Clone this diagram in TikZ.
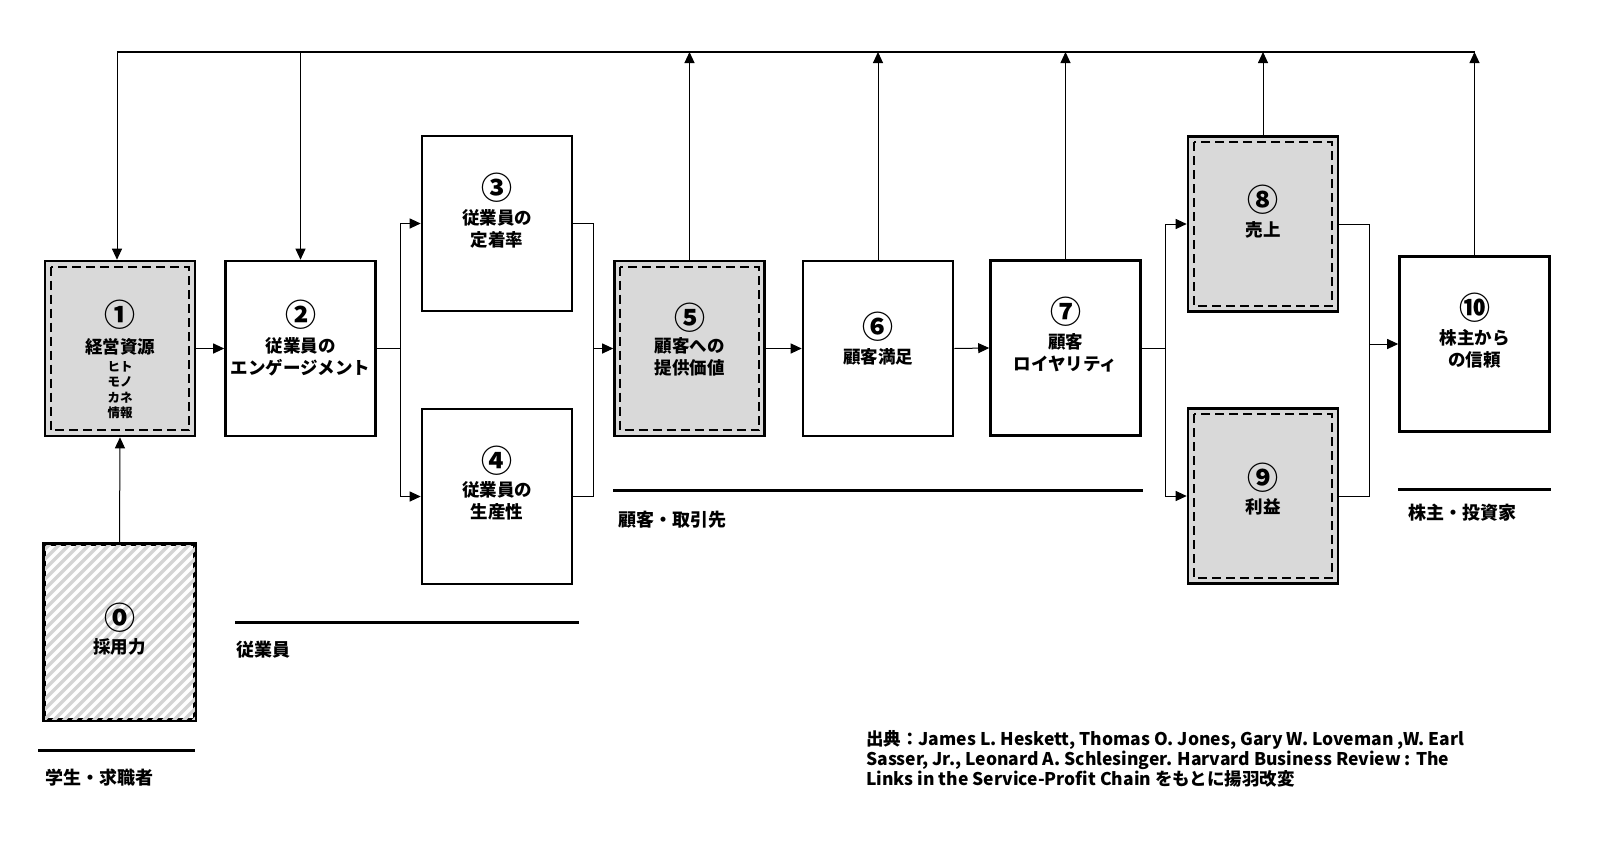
\documentclass[tikz,border=0pt]{standalone}
\usepackage{fontspec}
\setmainfont{Noto Sans CJK JP}
\usetikzlibrary{arrows.meta}
\definecolor{boxgray}{RGB}{217,217,217}
\definecolor{hatchgray}{RGB}{212,212,212}
\tikzset{
  box/.style={draw, line width=2.6pt, minimum width=150pt, minimum height=175pt, inner sep=0pt, fill=white},
  graybox/.style={box, fill=boxgray},
  hatchbox/.style={box, fill=none},
  num/.style={font=\fontsize{31}{33}\selectfont\bfseries, inner sep=0pt},
  txt/.style={font=\fontsize{17.5}{22}\selectfont\bfseries, align=center, inner sep=0pt},
  small/.style={font=\fontsize{12.5}{15.5}\selectfont\bfseries, align=center, inner sep=0pt},
  lbl/.style={font=\fontsize{18}{22}\selectfont\bfseries, anchor=west, inner sep=0pt},
  citetext/.style={font=\fontsize{17.5}{20}\selectfont\bfseries, align=left, anchor=north west, inner sep=0pt},
  arr/.style={line width=1pt, -{Triangle[length=11pt,width=10pt]}},
  conn/.style={line width=1pt},
  topline/.style={line width=2pt},
  secline/.style={line width=3pt},
  dashin/.style={line width=2pt, dash pattern=on 9pt off 5pt},
  hatchline/.style={line width=3.5pt, hatchgray},
}
\begin{document}
\begin{tikzpicture}[x=1pt,y=-1pt]
\fill[white] (0,0) rectangle (1624,849);
\useasboundingbox (0,0) rectangle (1624,849);

% boxes
\node[hatchbox] (b0) at (119.5,632) {};
\begin{scope}
  \clip (b0.south west) rectangle (b0.north east);
  \foreach \i in {0,10,...,340}{
    \draw[hatchline] ([xshift=\i pt-190pt]b0.south west) -- ++(190,-190);
  }
\end{scope}
\draw[line width=2.6pt] (b0.south west) rectangle (b0.north east);
\node[graybox] (b1) at (120,348.5) {};
\node[box] (b2) at (300.5,348.5) {};
\node[box] (b3) at (497,223.5) {};
\node[box] (b4) at (497,496.5) {};
\node[graybox] (b5) at (689.5,348.5) {};
\node[box] (b6) at (878,348.5) {};
\node[box] (b7) at (1065.5,348) {};
\node[graybox] (b8) at (1263,224) {};
\node[graybox] (b9) at (1263,496) {};
\node[box] (b10) at (1474.5,344) {};

% dashed inner frames
\foreach \b in {b1,b5,b8,b9}{
  \draw[dashin] ([shift={(7,7)}]\b.north west) rectangle ([shift={(-7,-7)}]\b.south east);
}

% texts
\node[num] (n0) at (119.5,618) {⓪};
\node[txt] (x0) at (119.5,647) {採用力};
\node[num] (n1) at (120,315) {①};
\node[txt] (x1) at (120,347) {経営資源};
\node[small] (s1) at (120,390) {ヒト\\モノ\\カネ\\情報};
\node[num] (n2) at (300.5,315) {②};
\node[txt] (x2) at (300.5,357) {従業員の\\エンゲージメント};
\node[num] (n3) at (497,188) {③};
\node[txt] (x3) at (497,229) {従業員の\\定着率};
\node[num] (n4) at (497,461) {④};
\node[txt] (x4) at (497,500.5) {従業員の\\生産性};
\node[num] (n5) at (689.5,318) {⑤};
\node[txt] (x5) at (689.5,357) {顧客への\\提供価値};
\node[num] (n6) at (878,327) {⑥};
\node[txt] (x6) at (878,357) {顧客満足};
\node[num] (n7) at (1065.5,312) {⑦};
\node[txt] (x7) at (1065.5,353) {顧客\\ロイヤリティ};
\node[num] (n8) at (1263,200) {⑧};
\node[txt] (x8) at (1263,230) {売上};
\node[num] (n9) at (1263,478) {⑨};
\node[txt] (x9) at (1263,507) {利益};
\node[num] (n10) at (1474.5,308) {⑩};
\node[txt] (x10) at (1474.5,349) {株主から\\の信頼};

% junctions
\coordinate (j1) at (400,348.5);
\coordinate (j2) at (593,348.5);
\coordinate (j3) at (1165,348);
\coordinate (j4) at (1369,344);
\coordinate (top1) at (117,52);

% connectors
\draw[arr] (b0.north) -- (b1.south);
\draw[arr] (b1.east) -- (b2.west);
\draw[conn] (b2.east) -- (j1);
\draw[arr] (j1) |- (b3.west);
\draw[arr] (j1) |- (b4.west);
\draw[conn] (b3.east) -| (j2);
\draw[conn] (b4.east) -| (j2);
\draw[arr] (j2) -- (b5.west);
\draw[arr] (b5.east) -- (b6.west);
\draw[arr] (b6.east) -- (b7.west);
\draw[conn] (b7.east) -- (j3);
\draw[arr] (j3) |- (b8.west);
\draw[arr] (j3) |- (b9.west);
\draw[conn] (b8.east) -| (j4);
\draw[conn] (b9.east) -| (j4);
\draw[arr] (j4) -- (b10.west);

% feedback loop
\draw[topline] (top1) -- (b10.north |- top1);
\draw[arr] (top1) -- (b1.north -| top1);
\draw[arr] (b2.north |- top1) -- (b2.north);
\draw[arr] (b5.north) -- (b5.north |- top1);
\draw[arr] (b6.north) -- (b6.north |- top1);
\draw[arr] (b7.north) -- (b7.north |- top1);
\draw[arr] (b8.north) -- (b8.north |- top1);
\draw[arr] (b10.north) -- (b10.north |- top1);

% section lines and labels
\draw[secline] (38,750) -- (195,750);
\node[lbl] (l0) at (45,778) {学生・求職者};
\draw[secline] (235,622) -- (579,622);
\node[lbl] (l1) at (236,650) {従業員};
\draw[secline] (613,490) -- (1143,490);
\node[lbl] (l2) at (618,520) {顧客・取引先};
\draw[secline] (1398,489) -- (1551,489);
\node[lbl] (l3) at (1408,513) {株主・投資家};

% citation
\node[citetext] (cite) at (866,730) {出典：James L. Heskett, Thomas O. Jones, Gary W. Loveman ,W. Earl\\Sasser, Jr., Leonard A. Schlesinger. Harvard Business Review : The\\Links in the Service-Profit Chain をもとに揚羽改変};
\end{tikzpicture}
\end{document}
